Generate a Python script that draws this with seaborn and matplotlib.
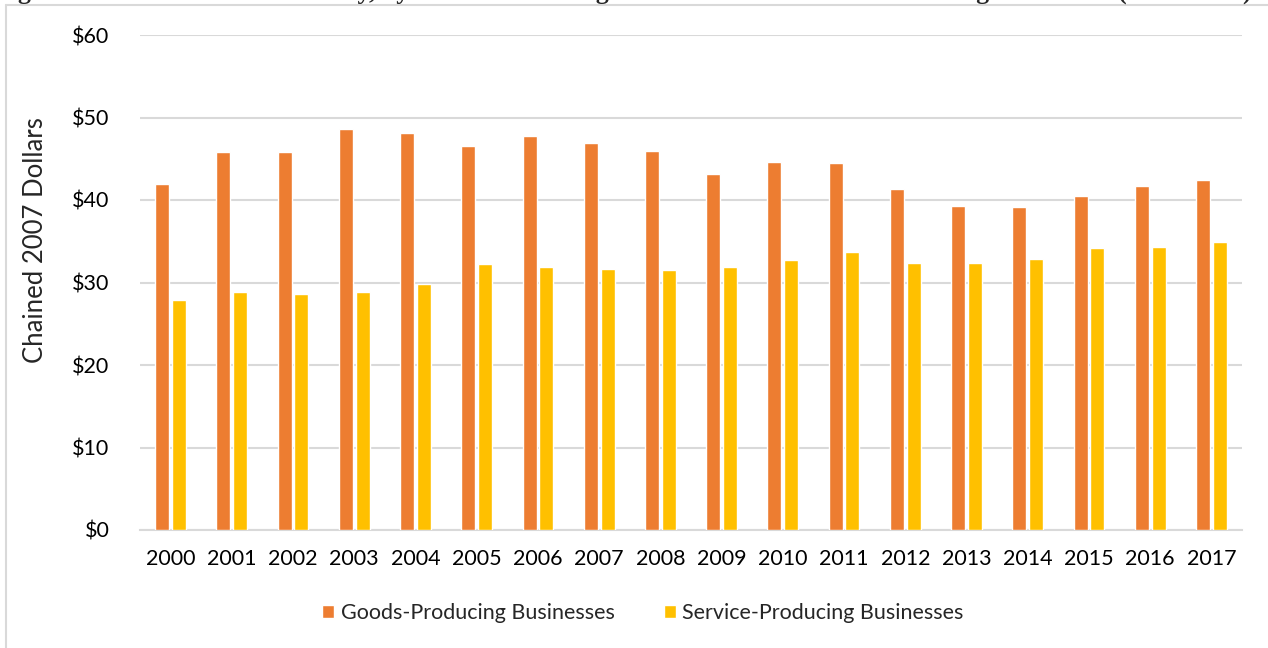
import pandas as pd
import numpy as np
import matplotlib.pyplot as plt
import seaborn as sns
from matplotlib.lines import Line2D

# Data
years = [str(y) for y in range(2000, 2018)]
goods = [41.9, 45.8, 45.8, 48.6, 48.1, 46.5, 47.8, 46.9, 45.9, 43.2,
         44.6, 44.5, 41.3, 39.3, 39.1, 40.5, 41.7, 42.4]
service = [27.9, 28.9, 28.6, 28.9, 29.8, 32.2, 31.9, 31.6, 31.5, 31.9,
           32.7, 33.7, 32.4, 32.4, 32.8, 34.2, 34.3, 34.9]
series_names = ['Goods-Producing Businesses', 'Service-Producing Businesses']
colors = ['#ED7D31', '#FFC000']
ytick_vals = [0, 10, 20, 30, 40, 50, 60]
ytick_labels = ['$0', '$10', '$20', '$30', '$40', '$50', '$60']
title = ('Figure 8: Real Labor Productivity, by Goods-Producing Businesses '
         'and Service-Producing Businesses (2000\u20132017)')

df = pd.DataFrame({
    'year': years * 2,
    'value': goods + service,
    'series': [series_names[0]] * len(years) + [series_names[1]] * len(years),
})

sns.set_style('white')
plt.rcParams['font.family'] = ['Lato', 'DejaVu Sans']

W, H = 1268, 648
fig = plt.figure(figsize=(W / 100, H / 100), dpi=100)
ax = fig.add_axes([140 / W, 1 - 530 / H, (1242 - 140) / W, (530 - 35) / H])

sns.barplot(data=df, x='year', y='value', hue='series', palette=colors,
            saturation=1, width=0.55, gap=0.17, ax=ax, legend=True, zorder=3)

ax.set_ylim(0, 60)
ax.set_xlim(-0.5, len(years) - 0.5)
ax.set_yticks(ytick_vals)
ax.set_yticklabels(ytick_labels)
ax.yaxis.grid(True, color='#D9D9D9', linewidth=1.5, zorder=0)
ax.set_axisbelow(True)
for s in ['top', 'right', 'left']:
    ax.spines[s].set_visible(False)
ax.spines['bottom'].set_color('#D9D9D9')
ax.spines['bottom'].set_linewidth(1.5)
ax.tick_params(axis='both', length=0, labelsize=15.5, colors='#000000')
ax.tick_params(axis='y', pad=22)
ax.tick_params(axis='x', pad=14)
ax.set_xlabel('')
ax.set_ylabel('Chained 2007 Dollars', fontsize=18.5)
ax.yaxis.set_label_coords(-0.0835, 0.586)

handles, labels = ax.get_legend_handles_labels()
ax.legend(handles, labels, loc='center', ncol=2, frameon=False,
          bbox_to_anchor=(643 / W, 1 - 613 / H), bbox_transform=fig.transFigure,
          fontsize=15.5, handlelength=0.55, handleheight=0.55, handletextpad=0.3,
          columnspacing=2.3)

# chart frame (light gray border)
fig.add_artist(Line2D([6 / W, 6 / W], [0, 1 - 5 / H], color='#D9D9D9', lw=1.5,
                      transform=fig.transFigure))
fig.add_artist(Line2D([6 / W, 1], [1 - 5 / H, 1 - 5 / H], color='#D9D9D9', lw=1.5,
                      transform=fig.transFigure))

# title, almost fully cut off at the top edge (as in the source image)
fig.text(-0.004, 1 + 1.5 / H, title, fontsize=18.5, fontweight='bold',
         family=['Liberation Serif', 'DejaVu Serif'], va='baseline', ha='left')

fig.savefig('out.png', dpi=100, facecolor='white')
